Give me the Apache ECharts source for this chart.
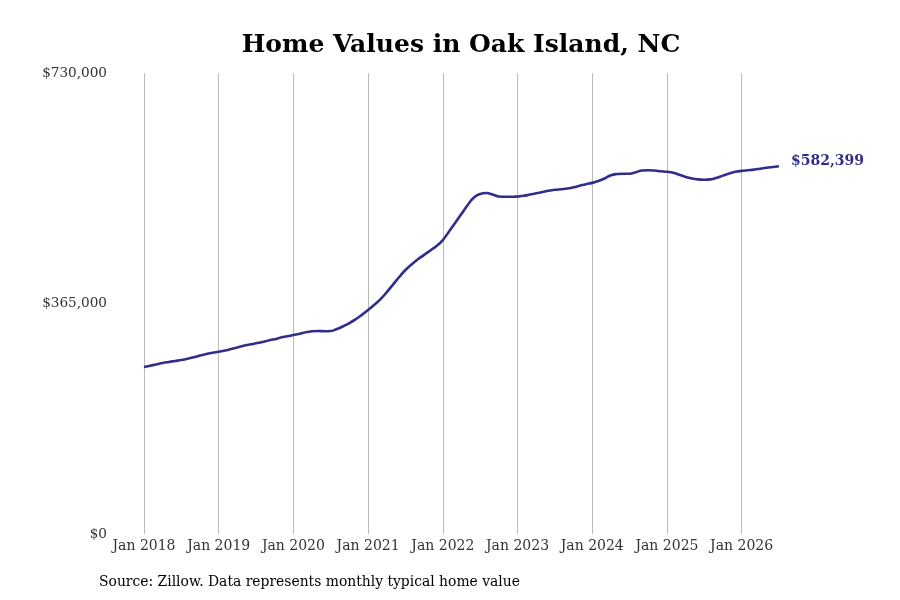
<!DOCTYPE html>
<html style="height: 100%">

<head>
  <meta charset="utf-8">
  <title>Home Values in Oak Island, NC</title>
</head>

<body style="height: 100%; margin: 0; background: #fff">
  <div id="container" style="width: 900px; height: 600px"></div>
  <script type="text/javascript" src="https://cdn.jsdelivr.net/npm/echarts@6/dist/echarts.min.js"></script>
  <script type="text/javascript">
    // monthly typical home value, Jan 2018 .. Jul 2026
    var startYear = 2018;
    var values = [
      264400, 266500, 268500, 270800, 272500, 274000, 275500, 277500, 280000, 282500, 285000, 287000,
      288700, 290500, 293000, 295500, 298000, 300000, 302000, 304000, 306500, 308500, 311000, 313000,
      315000, 317000, 319500, 321000, 321500, 321000, 321500, 324500, 329000, 334000, 340000, 347000,
      354700, 363000, 372000, 383000, 395000, 407000, 418000, 427000, 435000, 442000, 449000, 456000,
      465500, 479000, 493000, 507000, 521000, 533000, 538500, 540000, 537500, 534500, 534000, 534000,
      534500, 535500, 537500, 539500, 541500, 543500, 545000, 546000, 547000, 549000, 551500, 554000,
      556000, 559000, 563000, 568000, 570000, 570500, 570500, 573000, 575500, 576000, 575500, 574500,
      573500, 572000, 569000, 565500, 563000, 561500, 561000, 561500, 564000, 567500, 571000, 573500,
      575000, 576000, 577000, 578500, 580000, 581200, 582399
    ];
    var yTicks = [0, 365000, 730000];

    var monthNames = ['Jan', 'Feb', 'Mar', 'Apr', 'May', 'Jun', 'Jul', 'Aug', 'Sep', 'Oct', 'Nov', 'Dec'];
    var months = values.map(function (v, i) {
      return monthNames[i % 12] + ' ' + (startYear + Math.floor(i / 12));
    });

    function money(v) {
      return '$' + Math.round(v).toString().replace(/\B(?=(\d{3})+(?!\d))/g, ',');
    }
    function isJan(i) { return i % 12 === 0; }

    var lineColor = '#312e8a';
    var font = 'DejaVu Serif';

    var myChart = echarts.init(document.getElementById('container'));
    var option = {
      backgroundColor: '#fff',
      animation: false,
      textStyle: { fontFamily: font },
      title: {
        text: 'Home Values in Oak Island, NC',
        left: 456,
        top: 28,
        textAlign: 'center',
        textStyle: { fontFamily: font, fontSize: 25, fontWeight: 'bold', color: '#000' }
      },
      graphic: [{
        type: 'text',
        left: 99,
        top: 575,
        style: {
          text: 'Source: Zillow. Data represents monthly typical home value',
          font: '13.9px "DejaVu Serif"',
          fill: '#000'
        }
      }],
      grid: { left: 144, right: 121, top: 73, bottom: 66, containLabel: false },
      xAxis: {
        type: 'category',
        data: months,
        boundaryGap: false,
        axisLine: { show: false },
        axisTick: { show: false },
        axisLabel: {
          interval: function (i) { return isJan(i); },
          color: '#333',
          fontFamily: font,
          fontSize: 14,
          margin: 5
        },
        splitLine: {
          show: true,
          interval: function (i) { return isJan(i); },
          lineStyle: { color: '#bbbbbb', width: 1 }
        }
      },
      yAxis: {
        type: 'value',
        min: yTicks[0],
        max: yTicks[yTicks.length - 1],
        interval: yTicks[1] - yTicks[0],
        axisLine: { show: false },
        axisTick: { show: false },
        splitLine: { show: false },
        axisLabel: {
          formatter: money,
          color: '#333',
          fontFamily: font,
          fontSize: 13.6,
          margin: 37,
          padding: [6, 0, 0, 0]
        }
      },
      series: [{
        type: 'line',
        data: values,
        smooth: true,
        showSymbol: false,
        lineStyle: { color: lineColor, width: 2.6 },
        itemStyle: { color: lineColor },
        endLabel: {
          show: true,
          distance: 12,
          formatter: function (p) { return money(p.value); },
          color: lineColor,
          fontFamily: font,
          fontWeight: 'bold',
          fontSize: 14,
          offset: [0, -5]
        }
      }]
    };
    myChart.setOption(option);
  </script>
</body>

</html>
